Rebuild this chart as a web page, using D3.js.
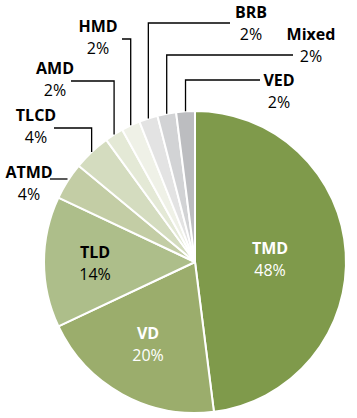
<!DOCTYPE html>
<html><head><meta charset="utf-8">
<script src="https://cdn.jsdelivr.net/npm/d3@7"></script>
<style>html,body{margin:0;padding:0;background:#fff;}svg{display:block;}</style>
</head><body>
<svg id="chart" width="357" height="418"></svg>
<script>
const categories = ["TMD","VD","TLD","ATMD","TLCD","AMD","HMD","BRB","Mixed","VED"];
const values = [48,20,14,4,4,2,2,2,2,2];
const colors = ["#7f9a4b","#9bad6c","#adbe8a","#c3cda5","#d4dcbf","#e4e9d6","#eff1e7","#e3e3e3","#d2d3d5","#bcbdc0"];

// label layout: inside labels [x,y,colour] or outside leader layout
const insideLabels = {TMD:[270,248,"#fff"], VD:[148,333,"#fff"], TLD:[95,252,"#000"]};
const outsideLabels = {
  ATMD:{elbowY:179, endX:50, tx:29, ty:172},
  TLCD:{elbowY:128, endX:54, tx:36, ty:115},
  AMD:{elbowY:81, endX:71, tx:55, ty:68},
  HMD:{elbowY:39, endX:122, tx:98, ty:26},
  BRB:{elbowY:23, endX:230, tx:251, ty:12},
  Mixed:{elbowY:55, endX:293, tx:311, ty:34},
  VED:{elbowY:80, endX:260, tx:279, ty:80}
};

const svg = d3.select("#chart");
const cx = 195, cy = 262, r = 151;
const g = svg.append("g").attr("transform", `translate(${cx},${cy})`);
const data = categories.map((c,i)=>({name:c, value:values[i], color:colors[i]}));
const pie = d3.pie().value(d=>d.value).sort(null);
const arc = d3.arc().innerRadius(0).outerRadius(r);
const arcs = pie(data);

g.selectAll("path").data(arcs).join("path")
  .attr("d", arc).attr("fill", d=>d.data.color)
  .attr("stroke", "#fff").attr("stroke-width", 2).attr("stroke-linejoin","round");

const font = "'Open Sans', sans-serif";
const fs = 16;
arcs.forEach(a => {
  const name = a.data.name;
  const pct = a.data.value + "%";
  if (insideLabels[name]) {
    const [x,y,col] = insideLabels[name];
    svg.append("text").attr("x",x).attr("y",y).attr("text-anchor","middle").attr("dominant-baseline","central")
      .attr("font-family",font).attr("font-size",fs).attr("font-weight","bold").attr("fill",col).text(name);
    svg.append("text").attr("x",x).attr("y",y+22).attr("text-anchor","middle").attr("dominant-baseline","central")
      .attr("font-family",font).attr("font-size",fs).attr("fill",col).text(pct);
  } else {
    const L = outsideLabels[name];
    const mid = (a.startAngle + a.endAngle)/2;
    const px = cx + r*Math.sin(mid), py = cy - r*Math.cos(mid);
    let pts;
    if (Math.abs(py - L.elbowY) < 4) pts = [[px, L.elbowY],[L.endX, L.elbowY]];
    else pts = [[px,py],[px,L.elbowY],[L.endX,L.elbowY]];
    svg.append("path").attr("d", d3.line()(pts)).attr("fill","none").attr("stroke","#000").attr("stroke-width",1.3);
    svg.append("text").attr("x",L.tx).attr("y",L.ty).attr("text-anchor","middle").attr("dominant-baseline","central")
      .attr("font-family",font).attr("font-size",fs).attr("font-weight","bold").attr("fill","#000").text(name);
    svg.append("text").attr("x",L.tx).attr("y",L.ty+22).attr("text-anchor","middle").attr("dominant-baseline","central")
      .attr("font-family",font).attr("font-size",fs).attr("fill","#000").text(pct);
  }
});
</script>
</body></html>
